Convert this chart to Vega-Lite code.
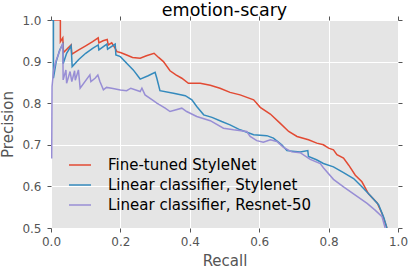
{
  "$schema": "https://vega.github.io/schema/vega-lite/v6.json",
  "autosize": {"type": "none"},
  "padding": {"left": 51, "top": 20, "right": 10, "bottom": 43},
  "width": 347,
  "height": 208,
  "background": "white",
  "config": {
    "font": "DejaVu Sans",
    "view": {"fill": "#E5E5E5", "stroke": null},
    "axis": {
      "gridColor": "white", "gridWidth": 1, "gridOpacity": 1,
      "domain": false, "labelFlush": false,
      "tickColor": "#555555", "tickSize": 4, "tickWidth": 1,
      "labelColor": "#555555", "labelFontSize": 12, "labelFont": "DejaVu Sans",
      "titleColor": "#555555", "titleFontSize": 15, "titleFontWeight": "normal", "titleFont": "DejaVu Sans"
    }
  },
  "title": {"text": "emotion-scary", "fontSize": 17.5, "fontWeight": "normal", "color": "black", "font": "DejaVu Sans", "baseline": "alphabetic", "frame": "group", "offset": 0, "dy": 19, "anchor": "middle"},
  "data": {"values": [
    {"m": "Fine-tuned StyleNet", "i": 0, "r": 0.0, "p": 1.0},
    {"m": "Fine-tuned StyleNet", "i": 1, "r": 0.027, "p": 1.0},
    {"m": "Fine-tuned StyleNet", "i": 2, "r": 0.027, "p": 0.948},
    {"m": "Fine-tuned StyleNet", "i": 3, "r": 0.034, "p": 0.957},
    {"m": "Fine-tuned StyleNet", "i": 4, "r": 0.036, "p": 0.922},
    {"m": "Fine-tuned StyleNet", "i": 5, "r": 0.058, "p": 0.94},
    {"m": "Fine-tuned StyleNet", "i": 6, "r": 0.06, "p": 0.918},
    {"m": "Fine-tuned StyleNet", "i": 7, "r": 0.08, "p": 0.928},
    {"m": "Fine-tuned StyleNet", "i": 8, "r": 0.1, "p": 0.938},
    {"m": "Fine-tuned StyleNet", "i": 9, "r": 0.12, "p": 0.948},
    {"m": "Fine-tuned StyleNet", "i": 10, "r": 0.136, "p": 0.957},
    {"m": "Fine-tuned StyleNet", "i": 11, "r": 0.138, "p": 0.945},
    {"m": "Fine-tuned StyleNet", "i": 12, "r": 0.15, "p": 0.95},
    {"m": "Fine-tuned StyleNet", "i": 13, "r": 0.162, "p": 0.953},
    {"m": "Fine-tuned StyleNet", "i": 14, "r": 0.165, "p": 0.94},
    {"m": "Fine-tuned StyleNet", "i": 15, "r": 0.175, "p": 0.945},
    {"m": "Fine-tuned StyleNet", "i": 16, "r": 0.185, "p": 0.932},
    {"m": "Fine-tuned StyleNet", "i": 17, "r": 0.19, "p": 0.924},
    {"m": "Fine-tuned StyleNet", "i": 18, "r": 0.2, "p": 0.922},
    {"m": "Fine-tuned StyleNet", "i": 19, "r": 0.218, "p": 0.916},
    {"m": "Fine-tuned StyleNet", "i": 20, "r": 0.235, "p": 0.91},
    {"m": "Fine-tuned StyleNet", "i": 21, "r": 0.257, "p": 0.908},
    {"m": "Fine-tuned StyleNet", "i": 22, "r": 0.275, "p": 0.914},
    {"m": "Fine-tuned StyleNet", "i": 23, "r": 0.297, "p": 0.92},
    {"m": "Fine-tuned StyleNet", "i": 24, "r": 0.31, "p": 0.91},
    {"m": "Fine-tuned StyleNet", "i": 25, "r": 0.324, "p": 0.9},
    {"m": "Fine-tuned StyleNet", "i": 26, "r": 0.343, "p": 0.878},
    {"m": "Fine-tuned StyleNet", "i": 27, "r": 0.36, "p": 0.868},
    {"m": "Fine-tuned StyleNet", "i": 28, "r": 0.377, "p": 0.86},
    {"m": "Fine-tuned StyleNet", "i": 29, "r": 0.396, "p": 0.848},
    {"m": "Fine-tuned StyleNet", "i": 30, "r": 0.43, "p": 0.848},
    {"m": "Fine-tuned StyleNet", "i": 31, "r": 0.459, "p": 0.843},
    {"m": "Fine-tuned StyleNet", "i": 32, "r": 0.487, "p": 0.836},
    {"m": "Fine-tuned StyleNet", "i": 33, "r": 0.516, "p": 0.826},
    {"m": "Fine-tuned StyleNet", "i": 34, "r": 0.545, "p": 0.82},
    {"m": "Fine-tuned StyleNet", "i": 35, "r": 0.584, "p": 0.808},
    {"m": "Fine-tuned StyleNet", "i": 36, "r": 0.603, "p": 0.79},
    {"m": "Fine-tuned StyleNet", "i": 37, "r": 0.632, "p": 0.774},
    {"m": "Fine-tuned StyleNet", "i": 38, "r": 0.66, "p": 0.752},
    {"m": "Fine-tuned StyleNet", "i": 39, "r": 0.685, "p": 0.732},
    {"m": "Fine-tuned StyleNet", "i": 40, "r": 0.709, "p": 0.72},
    {"m": "Fine-tuned StyleNet", "i": 41, "r": 0.742, "p": 0.712},
    {"m": "Fine-tuned StyleNet", "i": 42, "r": 0.766, "p": 0.704},
    {"m": "Fine-tuned StyleNet", "i": 43, "r": 0.785, "p": 0.7},
    {"m": "Fine-tuned StyleNet", "i": 44, "r": 0.8, "p": 0.692},
    {"m": "Fine-tuned StyleNet", "i": 45, "r": 0.814, "p": 0.688},
    {"m": "Fine-tuned StyleNet", "i": 46, "r": 0.824, "p": 0.676},
    {"m": "Fine-tuned StyleNet", "i": 47, "r": 0.843, "p": 0.668},
    {"m": "Fine-tuned StyleNet", "i": 48, "r": 0.858, "p": 0.651},
    {"m": "Fine-tuned StyleNet", "i": 49, "r": 0.877, "p": 0.627},
    {"m": "Fine-tuned StyleNet", "i": 50, "r": 0.896, "p": 0.611},
    {"m": "Fine-tuned StyleNet", "i": 51, "r": 0.915, "p": 0.582},
    {"m": "Fine-tuned StyleNet", "i": 52, "r": 0.94, "p": 0.56},
    {"m": "Fine-tuned StyleNet", "i": 53, "r": 0.954, "p": 0.535},
    {"m": "Fine-tuned StyleNet", "i": 54, "r": 0.968, "p": 0.5},
    {"m": "Linear classifier, Stylenet", "i": 0, "r": 0.0, "p": 1.0},
    {"m": "Linear classifier, Stylenet", "i": 1, "r": 0.007, "p": 1.0},
    {"m": "Linear classifier, Stylenet", "i": 2, "r": 0.007, "p": 0.86},
    {"m": "Linear classifier, Stylenet", "i": 3, "r": 0.015, "p": 0.9},
    {"m": "Linear classifier, Stylenet", "i": 4, "r": 0.025, "p": 0.928},
    {"m": "Linear classifier, Stylenet", "i": 5, "r": 0.034, "p": 0.942},
    {"m": "Linear classifier, Stylenet", "i": 6, "r": 0.035, "p": 0.895},
    {"m": "Linear classifier, Stylenet", "i": 7, "r": 0.045, "p": 0.92},
    {"m": "Linear classifier, Stylenet", "i": 8, "r": 0.058, "p": 0.938},
    {"m": "Linear classifier, Stylenet", "i": 9, "r": 0.061, "p": 0.888},
    {"m": "Linear classifier, Stylenet", "i": 10, "r": 0.08, "p": 0.905},
    {"m": "Linear classifier, Stylenet", "i": 11, "r": 0.1, "p": 0.92},
    {"m": "Linear classifier, Stylenet", "i": 12, "r": 0.12, "p": 0.932},
    {"m": "Linear classifier, Stylenet", "i": 13, "r": 0.136, "p": 0.94},
    {"m": "Linear classifier, Stylenet", "i": 14, "r": 0.138, "p": 0.928},
    {"m": "Linear classifier, Stylenet", "i": 15, "r": 0.161, "p": 0.942},
    {"m": "Linear classifier, Stylenet", "i": 16, "r": 0.163, "p": 0.93},
    {"m": "Linear classifier, Stylenet", "i": 17, "r": 0.185, "p": 0.942},
    {"m": "Linear classifier, Stylenet", "i": 18, "r": 0.187, "p": 0.916},
    {"m": "Linear classifier, Stylenet", "i": 19, "r": 0.2, "p": 0.912},
    {"m": "Linear classifier, Stylenet", "i": 20, "r": 0.223, "p": 0.892},
    {"m": "Linear classifier, Stylenet", "i": 21, "r": 0.237, "p": 0.88},
    {"m": "Linear classifier, Stylenet", "i": 22, "r": 0.257, "p": 0.858},
    {"m": "Linear classifier, Stylenet", "i": 23, "r": 0.28, "p": 0.866},
    {"m": "Linear classifier, Stylenet", "i": 24, "r": 0.3, "p": 0.874},
    {"m": "Linear classifier, Stylenet", "i": 25, "r": 0.305, "p": 0.86},
    {"m": "Linear classifier, Stylenet", "i": 26, "r": 0.314, "p": 0.83},
    {"m": "Linear classifier, Stylenet", "i": 27, "r": 0.353, "p": 0.824},
    {"m": "Linear classifier, Stylenet", "i": 28, "r": 0.387, "p": 0.818},
    {"m": "Linear classifier, Stylenet", "i": 29, "r": 0.406, "p": 0.808},
    {"m": "Linear classifier, Stylenet", "i": 30, "r": 0.42, "p": 0.792},
    {"m": "Linear classifier, Stylenet", "i": 31, "r": 0.44, "p": 0.772},
    {"m": "Linear classifier, Stylenet", "i": 32, "r": 0.464, "p": 0.766},
    {"m": "Linear classifier, Stylenet", "i": 33, "r": 0.492, "p": 0.756},
    {"m": "Linear classifier, Stylenet", "i": 34, "r": 0.516, "p": 0.748},
    {"m": "Linear classifier, Stylenet", "i": 35, "r": 0.545, "p": 0.736},
    {"m": "Linear classifier, Stylenet", "i": 36, "r": 0.584, "p": 0.724},
    {"m": "Linear classifier, Stylenet", "i": 37, "r": 0.622, "p": 0.722},
    {"m": "Linear classifier, Stylenet", "i": 38, "r": 0.641, "p": 0.716},
    {"m": "Linear classifier, Stylenet", "i": 39, "r": 0.665, "p": 0.7},
    {"m": "Linear classifier, Stylenet", "i": 40, "r": 0.68, "p": 0.686},
    {"m": "Linear classifier, Stylenet", "i": 41, "r": 0.718, "p": 0.683},
    {"m": "Linear classifier, Stylenet", "i": 42, "r": 0.74, "p": 0.686},
    {"m": "Linear classifier, Stylenet", "i": 43, "r": 0.742, "p": 0.672},
    {"m": "Linear classifier, Stylenet", "i": 44, "r": 0.765, "p": 0.664},
    {"m": "Linear classifier, Stylenet", "i": 45, "r": 0.785, "p": 0.655},
    {"m": "Linear classifier, Stylenet", "i": 46, "r": 0.814, "p": 0.647},
    {"m": "Linear classifier, Stylenet", "i": 47, "r": 0.843, "p": 0.633},
    {"m": "Linear classifier, Stylenet", "i": 48, "r": 0.872, "p": 0.619},
    {"m": "Linear classifier, Stylenet", "i": 49, "r": 0.896, "p": 0.599},
    {"m": "Linear classifier, Stylenet", "i": 50, "r": 0.92, "p": 0.578},
    {"m": "Linear classifier, Stylenet", "i": 51, "r": 0.944, "p": 0.556},
    {"m": "Linear classifier, Stylenet", "i": 52, "r": 0.959, "p": 0.525},
    {"m": "Linear classifier, Stylenet", "i": 53, "r": 0.968, "p": 0.5},
    {"m": "Linear classifier, Resnet-50", "i": 0, "r": 0.002, "p": 0.667},
    {"m": "Linear classifier, Resnet-50", "i": 1, "r": 0.003, "p": 0.84},
    {"m": "Linear classifier, Resnet-50", "i": 2, "r": 0.007, "p": 0.875},
    {"m": "Linear classifier, Resnet-50", "i": 3, "r": 0.012, "p": 0.896},
    {"m": "Linear classifier, Resnet-50", "i": 4, "r": 0.026, "p": 0.928},
    {"m": "Linear classifier, Resnet-50", "i": 5, "r": 0.034, "p": 0.944},
    {"m": "Linear classifier, Resnet-50", "i": 6, "r": 0.035, "p": 0.856},
    {"m": "Linear classifier, Resnet-50", "i": 7, "r": 0.043, "p": 0.88},
    {"m": "Linear classifier, Resnet-50", "i": 8, "r": 0.045, "p": 0.848},
    {"m": "Linear classifier, Resnet-50", "i": 9, "r": 0.055, "p": 0.876},
    {"m": "Linear classifier, Resnet-50", "i": 10, "r": 0.06, "p": 0.852},
    {"m": "Linear classifier, Resnet-50", "i": 11, "r": 0.068, "p": 0.878},
    {"m": "Linear classifier, Resnet-50", "i": 12, "r": 0.07, "p": 0.855},
    {"m": "Linear classifier, Resnet-50", "i": 13, "r": 0.079, "p": 0.88},
    {"m": "Linear classifier, Resnet-50", "i": 14, "r": 0.084, "p": 0.836},
    {"m": "Linear classifier, Resnet-50", "i": 15, "r": 0.112, "p": 0.868},
    {"m": "Linear classifier, Resnet-50", "i": 16, "r": 0.115, "p": 0.852},
    {"m": "Linear classifier, Resnet-50", "i": 17, "r": 0.127, "p": 0.86},
    {"m": "Linear classifier, Resnet-50", "i": 18, "r": 0.135, "p": 0.868},
    {"m": "Linear classifier, Resnet-50", "i": 19, "r": 0.141, "p": 0.852},
    {"m": "Linear classifier, Resnet-50", "i": 20, "r": 0.151, "p": 0.832},
    {"m": "Linear classifier, Resnet-50", "i": 21, "r": 0.16, "p": 0.838},
    {"m": "Linear classifier, Resnet-50", "i": 22, "r": 0.175, "p": 0.836},
    {"m": "Linear classifier, Resnet-50", "i": 23, "r": 0.2, "p": 0.832},
    {"m": "Linear classifier, Resnet-50", "i": 24, "r": 0.218, "p": 0.83},
    {"m": "Linear classifier, Resnet-50", "i": 25, "r": 0.23, "p": 0.836},
    {"m": "Linear classifier, Resnet-50", "i": 26, "r": 0.257, "p": 0.828},
    {"m": "Linear classifier, Resnet-50", "i": 27, "r": 0.262, "p": 0.836},
    {"m": "Linear classifier, Resnet-50", "i": 28, "r": 0.271, "p": 0.82},
    {"m": "Linear classifier, Resnet-50", "i": 29, "r": 0.295, "p": 0.806},
    {"m": "Linear classifier, Resnet-50", "i": 30, "r": 0.305, "p": 0.8},
    {"m": "Linear classifier, Resnet-50", "i": 31, "r": 0.329, "p": 0.788},
    {"m": "Linear classifier, Resnet-50", "i": 32, "r": 0.343, "p": 0.78},
    {"m": "Linear classifier, Resnet-50", "i": 33, "r": 0.377, "p": 0.788},
    {"m": "Linear classifier, Resnet-50", "i": 34, "r": 0.391, "p": 0.78},
    {"m": "Linear classifier, Resnet-50", "i": 35, "r": 0.42, "p": 0.768},
    {"m": "Linear classifier, Resnet-50", "i": 36, "r": 0.459, "p": 0.758},
    {"m": "Linear classifier, Resnet-50", "i": 37, "r": 0.497, "p": 0.74},
    {"m": "Linear classifier, Resnet-50", "i": 38, "r": 0.526, "p": 0.736},
    {"m": "Linear classifier, Resnet-50", "i": 39, "r": 0.564, "p": 0.732},
    {"m": "Linear classifier, Resnet-50", "i": 40, "r": 0.574, "p": 0.72},
    {"m": "Linear classifier, Resnet-50", "i": 41, "r": 0.593, "p": 0.71},
    {"m": "Linear classifier, Resnet-50", "i": 42, "r": 0.612, "p": 0.706},
    {"m": "Linear classifier, Resnet-50", "i": 43, "r": 0.632, "p": 0.712},
    {"m": "Linear classifier, Resnet-50", "i": 44, "r": 0.651, "p": 0.708},
    {"m": "Linear classifier, Resnet-50", "i": 45, "r": 0.67, "p": 0.694},
    {"m": "Linear classifier, Resnet-50", "i": 46, "r": 0.694, "p": 0.683},
    {"m": "Linear classifier, Resnet-50", "i": 47, "r": 0.718, "p": 0.681},
    {"m": "Linear classifier, Resnet-50", "i": 48, "r": 0.747, "p": 0.665},
    {"m": "Linear classifier, Resnet-50", "i": 49, "r": 0.776, "p": 0.655},
    {"m": "Linear classifier, Resnet-50", "i": 50, "r": 0.785, "p": 0.645},
    {"m": "Linear classifier, Resnet-50", "i": 51, "r": 0.814, "p": 0.617},
    {"m": "Linear classifier, Resnet-50", "i": 52, "r": 0.843, "p": 0.599},
    {"m": "Linear classifier, Resnet-50", "i": 53, "r": 0.877, "p": 0.579},
    {"m": "Linear classifier, Resnet-50", "i": 54, "r": 0.911, "p": 0.559},
    {"m": "Linear classifier, Resnet-50", "i": 55, "r": 0.934, "p": 0.543},
    {"m": "Linear classifier, Resnet-50", "i": 56, "r": 0.954, "p": 0.527},
    {"m": "Linear classifier, Resnet-50", "i": 57, "r": 0.963, "p": 0.5}
  ]},
  "layer": [
    {
      "mark": {"type": "line", "strokeWidth": 1.5, "clip": true},
      "encoding": {
        "x": {"field": "r", "type": "quantitative", "scale": {"domain": [0, 1], "nice": false, "zero": false},
              "axis": {"title": "Recall", "values": [0, 0.2, 0.4, 0.6, 0.8, 1.0], "format": ".1f", "labelPadding": 4, "titlePadding": 6, "orient": "bottom"}},
        "y": {"field": "p", "type": "quantitative", "scale": {"domain": [0.5, 1], "nice": false, "zero": false},
              "axis": {"title": "Precision", "values": [0.5, 0.6, 0.7, 0.8, 0.9, 1.0], "format": ".1f", "labelPadding": 6, "titlePadding": 6, "orient": "left"}},
        "order": {"field": "i", "type": "quantitative"},
        "color": {"field": "m", "type": "nominal",
          "scale": {"domain": ["Fine-tuned StyleNet", "Linear classifier, Stylenet", "Linear classifier, Resnet-50"], "range": ["#E24A33", "#348ABD", "#988ED5"]},
          "legend": {"title": null, "orient": "none", "legendX": 17, "legendY": 133, "symbolType": "stroke", "symbolSize": 484, "symbolStrokeWidth": 1.5, "labelFontSize": 15, "labelColor": "black", "labelFont": "DejaVu Sans", "labelOffset": 16, "rowPadding": 0, "padding": 0, "labelLimit": 400}}
      }
    },
    {
      "mark": {"type": "point", "opacity": 0},
      "encoding": {
        "x": {"field": "r", "type": "quantitative", "axis": {"orient": "top", "values": [0, 0.2, 0.4, 0.6, 0.8, 1.0], "labels": false, "grid": false, "title": null}},
        "y": {"field": "p", "type": "quantitative", "axis": {"orient": "right", "values": [0.5, 0.6, 0.7, 0.8, 0.9, 1.0], "labels": false, "grid": false, "title": null}}
      }
    }
  ],
  "resolve": {"axis": {"x": "independent", "y": "independent"}}
}
